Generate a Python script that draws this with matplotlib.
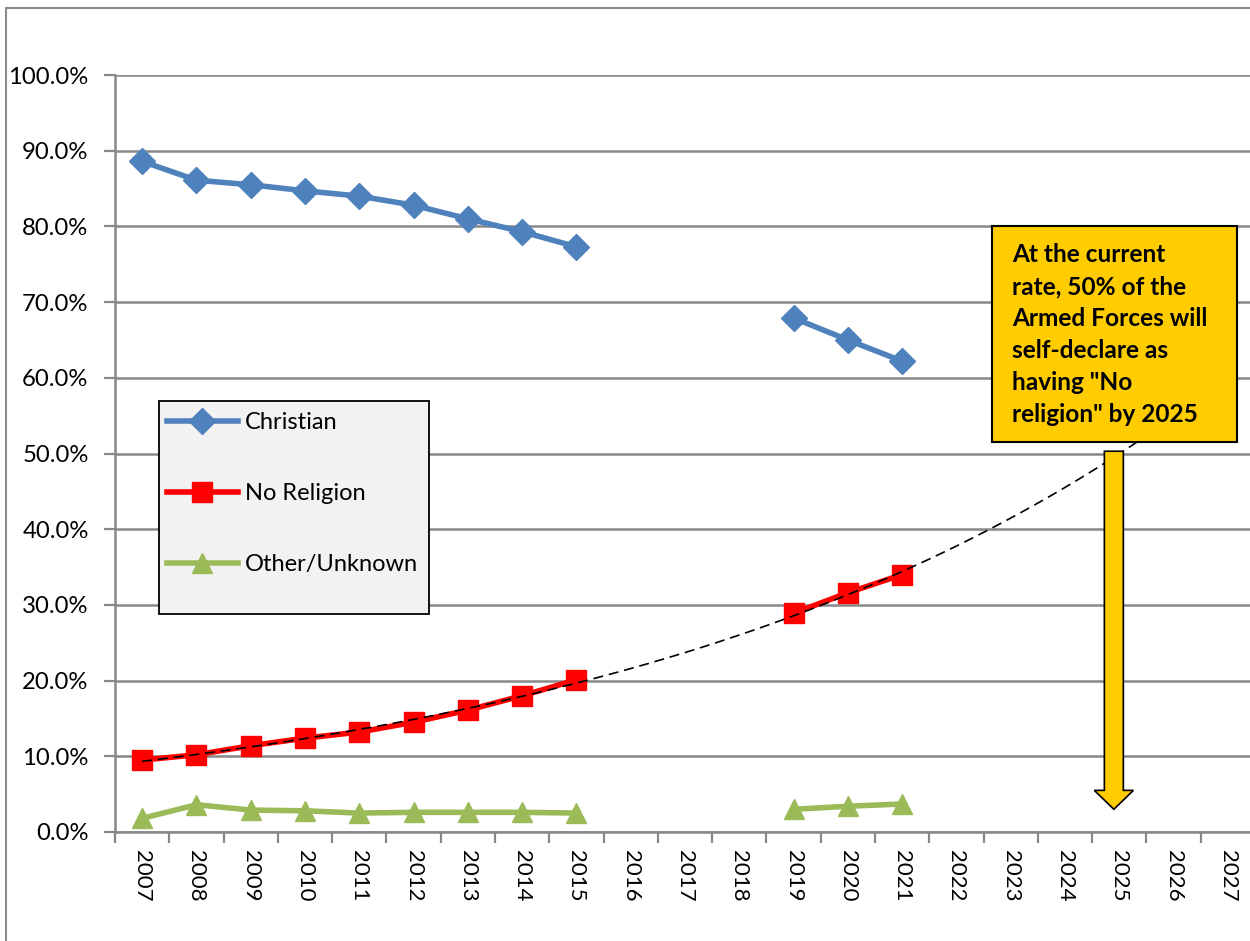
import numpy as np
import matplotlib
matplotlib.use('Agg')
import matplotlib.pyplot as plt
from matplotlib.patches import Rectangle, FancyArrow
from matplotlib.ticker import FixedLocator, PercentFormatter

years = [str(y) for y in range(2007, 2028)]
nan = np.nan

# share of personnel, percent; survey years 2016-2018 missing
christian = [88.6, 86.1, 85.5, 84.7, 84.0, 82.8, 81.0, 79.3, 77.3,
             nan, nan, nan, 67.9, 65.0, 62.2, nan, nan, nan, nan, nan, nan]
no_religion = [9.5, 10.2, 11.4, 12.4, 13.2, 14.5, 16.1, 18.0, 20.1,
               nan, nan, nan, 28.9, 31.6, 34.0, nan, nan, nan, nan, nan, nan]
other = [1.8, 3.6, 2.9, 2.8, 2.5, 2.6, 2.6, 2.6, 2.5,
         nan, nan, nan, 3.0, 3.4, 3.7, nan, nan, nan, nan, nan, nan]

note = ('At the current\nrate, 50% of the\nArmed Forces will\n'
        'self-declare as\nhaving "No\nreligion" by 2025')

W, H = 1250, 941
fig = plt.figure(figsize=(W / 100, H / 100), dpi=100)

def fx(px):
    return px / W

def fy(py):
    return 1 - py / H

# axes runs slightly past the right edge of the image
ax = fig.add_axes([fx(115), fy(832), fx(1255) - fx(115), fy(75) - fy(832)])

x = np.arange(len(years))

ax.plot(x, christian, color='#4F81BD', lw=4, marker='D', ms=13,
        label='Christian', zorder=4)
ax.plot(x, no_religion, color='#FF0000', lw=4, marker='s', ms=14.5,
        label='No Religion', zorder=4)
ax.plot(x, other, color='#9BBB59', lw=4, marker='^', ms=14.5,
        label='Other/Unknown', zorder=4)

# exponential trendline on the no-religion series, projected forward
nr = np.array(no_religion)
ok = ~np.isnan(nr)
b, a = np.polyfit(x[ok], np.log(nr[ok]), 1)
xt = np.linspace(0, 19, 200)
ax.plot(xt, np.exp(a + b * xt), color='black', lw=1.2,
        dashes=(6, 3.5), zorder=5)

ax.set_xlim(-0.5, len(years) - 0.5)
ax.set_ylim(0, 100)
ax.yaxis.set_major_locator(FixedLocator(np.arange(0, 101, 10)))
ax.yaxis.set_major_formatter(PercentFormatter(decimals=1))
ax.set_xticks(x)
ax.set_xticklabels(years, rotation=-90)
ax.xaxis.set_minor_locator(FixedLocator(np.arange(-0.5, len(years), 1)))
ax.tick_params(axis='x', which='major', length=0, pad=13, labelsize=16)
ax.tick_params(axis='x', which='minor', length=8, width=1.6,
               color='#888888', direction='out')
ax.tick_params(axis='y', which='major', length=8, width=1.6,
               color='#888888', labelsize=17.2, pad=11)
for lab in ax.get_xticklabels() + ax.get_yticklabels():
    lab.set_family('Lato')
for lab in ax.get_xticklabels():
    lab.set_verticalalignment('top')

ax.grid(axis='y', color='#888888', lw=1.8)
ax.set_axisbelow(True)
for side in ['top', 'right']:
    ax.spines[side].set_visible(False)
for side in ['left', 'bottom']:
    ax.spines[side].set_color('#888888')
    ax.spines[side].set_linewidth(1.8)

# callout box and arrow
ax.add_patch(Rectangle((fx(992), fy(442)), fx(1237) - fx(992), fy(226) - fy(442),
                       transform=fig.transFigure, facecolor='#FFCC00',
                       edgecolor='black', lw=1.5, zorder=7))
fig.text(fx(1012), fy(243), note, ha='left', va='top', family='Lato',
         fontweight='bold', fontsize=17.6, linespacing=1.47, zorder=8)
ax.add_patch(FancyArrow(17.9, 50.3, 0, -47.3, width=0.35, head_width=0.72,
                        head_length=2.5, length_includes_head=True,
                        facecolor='#FFCC00', edgecolor='black', lw=1.2,
                        zorder=6))

# legend with its own frame
ax.add_patch(Rectangle((fx(159), fy(614)), fx(429) - fx(159), fy(401) - fy(614),
                       transform=fig.transFigure, facecolor='#F2F2F2',
                       edgecolor='black', lw=1.3, zorder=7))
leg = ax.legend(loc='upper left', bbox_to_anchor=(fx(167), fy(412)),
                bbox_transform=fig.transFigure, frameon=False,
                prop={'family': 'Lato', 'size': 17}, handlelength=3.0,
                handletextpad=0.3, labelspacing=2.12, borderpad=0,
                borderaxespad=0)
leg.set_zorder(8)

# outer chart border
fig.patches.append(Rectangle((fx(6), fy(960)), 1.2, fy(8) - fy(960),
                             transform=fig.transFigure, fill=False,
                             edgecolor='#8C8C8C', lw=1.5))

fig.savefig('out.png', dpi=100)
